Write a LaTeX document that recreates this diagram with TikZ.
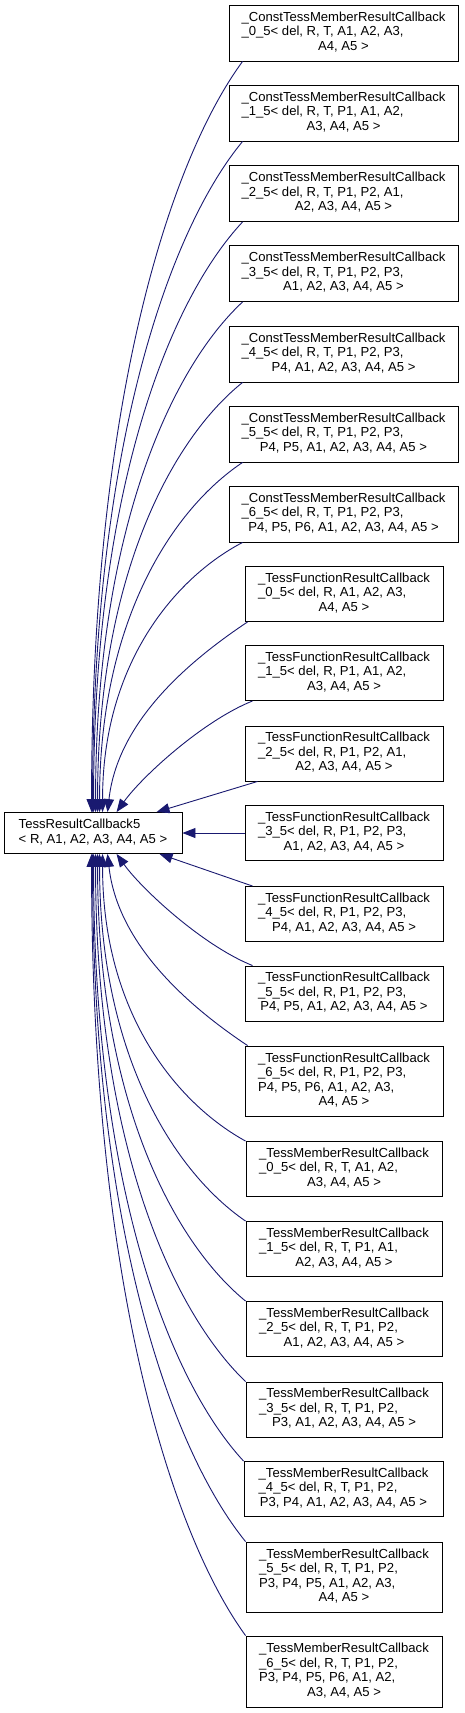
\documentclass[tikz,border=0pt]{standalone}
\usepackage{fontspec}
\setmainfont{Liberation Sans}
\usetikzlibrary{arrows.meta}
\definecolor{edgeblue}{HTML}{191970}
\newcommand\lastln[1]{\multicolumn{1}{@{}c@{}}{#1}}
\newcommand\bt[1]{\begin{tabular}{@{}l@{}}#1\end{tabular}}
\tikzset{
  box/.style={draw=black, fill=white, line width=0.9pt, inner sep=0pt, font=\fontsize{13.1}{14.5}\selectfont},
  cbox/.style={box, minimum width=229pt, minimum height=56pt},
  fbox/.style={box, minimum width=198pt, minimum height=55pt},
  mbox/.style={box, minimum width=196pt, minimum height=55pt},
  edge/.style={draw=edgeblue, line width=0.9pt, -{Triangle[length=13pt,width=10pt]}}
}
\begin{document}
\begin{tikzpicture}[x=1pt,y=-1pt]
\useasboundingbox (0,0) rectangle (464,1713);
% base
\node[box, minimum width=178pt, minimum height=41pt] (base) at (93,833)
  {\bt{TessResultCallback5\\\lastln{< R, A1, A2, A3, A4, A5 >}}};
% const boxes
\node[cbox] (c0) at (343.5,33) {\bt{\_ConstTessMemberResultCallback\\\_0\_5< del, R, T, A1, A2, A3,\\\lastln{A4, A5 >}}};
\node[cbox] (c1) at (343.5,113) {\bt{\_ConstTessMemberResultCallback\\\_1\_5< del, R, T, P1, A1, A2,\\\lastln{A3, A4, A5 >}}};
\node[cbox] (c2) at (343.5,193.5) {\bt{\_ConstTessMemberResultCallback\\\_2\_5< del, R, T, P1, P2, A1,\\\lastln{A2, A3, A4, A5 >}}};
\node[cbox] (c3) at (343.5,273.5) {\bt{\_ConstTessMemberResultCallback\\\_3\_5< del, R, T, P1, P2, P3,\\\lastln{A1, A2, A3, A4, A5 >}}};
\node[cbox] (c4) at (343.5,354) {\bt{\_ConstTessMemberResultCallback\\\_4\_5< del, R, T, P1, P2, P3,\\\lastln{P4, A1, A2, A3, A4, A5 >}}};
\node[cbox] (c5) at (343.5,434) {\bt{\_ConstTessMemberResultCallback\\\_5\_5< del, R, T, P1, P2, P3,\\\lastln{P4, P5, A1, A2, A3, A4, A5 >}}};
\node[cbox] (c6) at (343.5,514) {\bt{\_ConstTessMemberResultCallback\\\_6\_5< del, R, T, P1, P2, P3,\\\lastln{P4, P5, P6, A1, A2, A3, A4, A5 >}}};
% function boxes
\node[fbox] (f0) at (344,594) {\bt{\_TessFunctionResultCallback\\\_0\_5< del, R, A1, A2, A3,\\\lastln{A4, A5 >}}};
\node[fbox] (f1) at (344,673) {\bt{\_TessFunctionResultCallback\\\_1\_5< del, R, P1, A1, A2,\\\lastln{A3, A4, A5 >}}};
\node[fbox] (f2) at (344,753.5) {\bt{\_TessFunctionResultCallback\\\_2\_5< del, R, P1, P2, A1,\\\lastln{A2, A3, A4, A5 >}}};
\node[fbox] (f3) at (344,833) {\bt{\_TessFunctionResultCallback\\\_3\_5< del, R, P1, P2, P3,\\\lastln{A1, A2, A3, A4, A5 >}}};
\node[fbox] (f4) at (344,914) {\bt{\_TessFunctionResultCallback\\\_4\_5< del, R, P1, P2, P3,\\\lastln{P4, A1, A2, A3, A4, A5 >}}};
\node[fbox] (f5) at (344,993.5) {\bt{\_TessFunctionResultCallback\\\_5\_5< del, R, P1, P2, P3,\\\lastln{P4, P5, A1, A2, A3, A4, A5 >}}};
\node[fbox, minimum height=70pt] (f6) at (344,1081) {\bt{\_TessFunctionResultCallback\\\_6\_5< del, R, P1, P2, P3,\\P4, P5, P6, A1, A2, A3,\\\lastln{A4, A5 >}}};
% member boxes
\node[mbox] (m0) at (344,1169) {\bt{\_TessMemberResultCallback\\\_0\_5< del, R, T, A1, A2,\\\lastln{A3, A4, A5 >}}};
\node[mbox] (m1) at (344,1249) {\bt{\_TessMemberResultCallback\\\_1\_5< del, R, T, P1, A1,\\\lastln{A2, A3, A4, A5 >}}};
\node[mbox] (m2) at (344,1329) {\bt{\_TessMemberResultCallback\\\_2\_5< del, R, T, P1, P2,\\\lastln{A1, A2, A3, A4, A5 >}}};
\node[mbox] (m3) at (344,1409.5) {\bt{\_TessMemberResultCallback\\\_3\_5< del, R, T, P1, P2,\\\lastln{P3, A1, A2, A3, A4, A5 >}}};
\node[mbox, minimum width=199pt] (m4) at (343.5,1489) {\bt{\_TessMemberResultCallback\\\_4\_5< del, R, T, P1, P2,\\\lastln{P3, P4, A1, A2, A3, A4, A5 >}}};
\node[mbox, minimum height=70pt] (m5) at (344,1577) {\bt{\_TessMemberResultCallback\\\_5\_5< del, R, T, P1, P2,\\P3, P4, P5, A1, A2, A3,\\\lastln{A4, A5 >}}};
\node[mbox, minimum height=71pt] (m6) at (344,1671.5) {\bt{\_TessMemberResultCallback\\\_6\_5< del, R, T, P1, P2,\\P3, P4, P5, P6, A1, A2,\\\lastln{A3, A4, A5 >}}};
% edges from const boxes
\draw[edge] ([xshift=14pt]c0.south west) .. controls +(-72,98) and +(0,-413) .. ([xshift=88pt]base.north west);
\draw[edge] ([xshift=14pt]c1.south west) .. controls +(-72,87) and +(0,-369) .. ([xshift=89pt]base.north west);
\draw[edge] ([xshift=14pt]c2.south west) .. controls +(-72,77) and +(0,-325) .. ([xshift=90pt]base.north west);
\draw[edge] ([xshift=14pt]c3.south west) .. controls +(-71,66) and +(0,-281) .. ([xshift=92pt]base.north west);
\draw[edge] ([xshift=14pt]c4.south west) .. controls +(-70,56) and +(0,-237) .. ([xshift=94pt]base.north west);
\draw[edge] ([xshift=14pt]c5.south west) .. controls +(-69,46) and +(0,-193) .. ([xshift=96pt]base.north west);
\draw[edge] ([xshift=14pt]c6.south west) .. controls +(-67,35) and +(0,-149) .. ([xshift=99pt]base.north west);
% edges from function boxes
\draw[edge] ([xshift=3pt]f0.south west) .. controls +(-60,40) and +(10,-90) .. ([xshift=104pt]base.north west);
\draw[edge] ([xshift=8pt]f1.south west) .. controls +(-50,20) and +(25,-35) .. ([xshift=113pt]base.north west);
\draw[edge] ([xshift=13pt]f2.south west) -- ([xshift=153pt]base.north west);
\draw[edge] (f3.west) -- (base.east);
\draw[edge] ([xshift=8pt]f4.north west) -- ([xshift=156pt]base.south west);
\draw[edge] ([xshift=8pt]f5.north west) .. controls +(-50,-20) and +(25,35) .. ([xshift=113pt]base.south west);
\draw[edge] ([xshift=3pt]f6.north west) .. controls +(-60,-40) and +(10,90) .. ([xshift=104pt]base.south west);
% edges from member boxes
\draw[edge] (m0.north west) .. controls +(-69,-38) and +(0,159) .. ([xshift=99pt]base.south west);
\draw[edge] (m1.north west) .. controls +(-70,-48) and +(0,203) .. ([xshift=96pt]base.south west);
\draw[edge] (m2.north west) .. controls +(-71,-58) and +(0,247) .. ([xshift=94pt]base.south west);
\draw[edge] (m3.north west) .. controls +(-72,-69) and +(0,291) .. ([xshift=92pt]base.south west);
\draw[edge] (m4.north west) .. controls +(-73,-79) and +(0,335) .. ([xshift=90pt]base.south west);
\draw[edge] (m5.north west) .. controls +(-73,-90) and +(0,379) .. ([xshift=89pt]base.south west);
\draw[edge] (m6.north west) .. controls +(-74,-102) and +(0,431) .. ([xshift=88pt]base.south west);
\end{tikzpicture}
\end{document}
